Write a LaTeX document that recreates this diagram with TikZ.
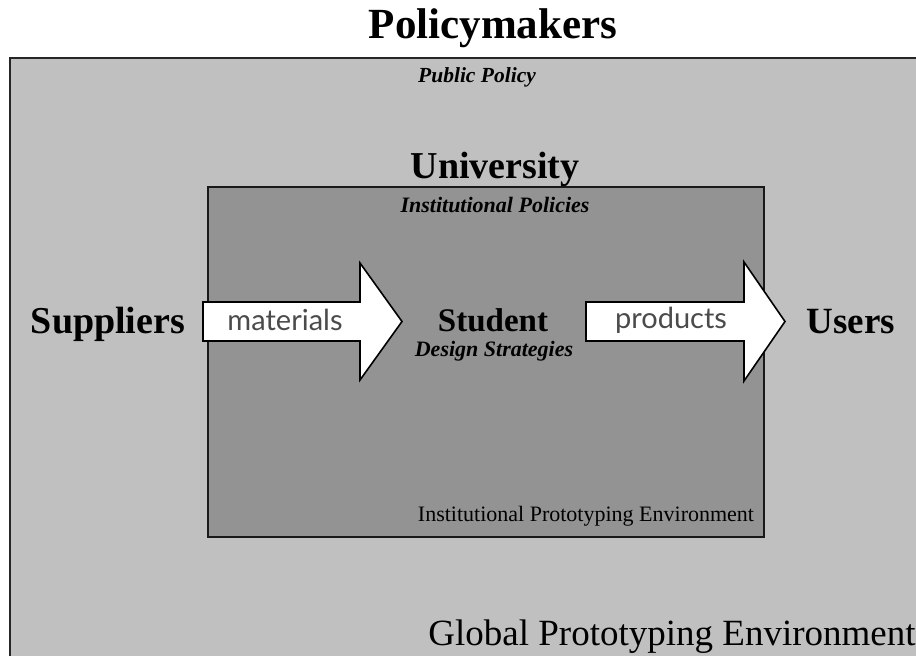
\documentclass[tikz,border=0pt]{standalone}
\usepackage{fontspec}
\setmainfont{Liberation Serif}
\newfontfamily\arrowfont{Lato}
\definecolor{globalgray}{RGB}{192,192,192}
\definecolor{instgray}{RGB}{147,147,147}
\definecolor{arrowtext}{RGB}{75,75,75}
\newcommand{\fs}[1]{\fontsize{#1}{#1}\selectfont}
\tikzset{
  lbl/.style={anchor=base,inner sep=0pt},
  arrowbox/.style={draw=black,line width=1.6pt,fill=white,line join=miter},
}

\begin{document}
\begin{tikzpicture}[x=1pt,y=-1pt]
            \useasboundingbox (0,0) rectangle (916,656);
            \clip (0,0) rectangle (916,656);
            \draw[line width=2pt,draw=black!85,fill=globalgray] (10,58) rectangle (930,670);
            \draw[line width=2pt,draw=black!90,fill=instgray] (208,187) rectangle (764,537);
            \draw[arrowbox] (203,302)--(360,302)--(360,263)--(402,321.5)--(360,380)--(360,341)--(203,341)--cycle;
            \draw[arrowbox] (586,302)--(744,302)--(744,262)--(785,321.5)--(744,381)--(744,341)--(586,341)--cycle;
            \node[lbl] (policy) at (493,38) {\fs{43}\bfseries Policymakers};
            \node[lbl] (public) at (477,82) {\fs{21.5}\bfseries\itshape Public Policy};
            \node[lbl] (univ) at (495,178) {\fs{38}\bfseries University};
            \node[lbl] (instpol) at (495,212) {\fs{22}\bfseries\itshape Institutional Policies};
            \node[lbl] (supp) at (108,333) {\fs{38}\bfseries Suppliers};
            \node[lbl] (stud) at (493,331) {\fs{33}\bfseries Student};
            \node[lbl] (design) at (494,356) {\fs{22}\bfseries\itshape Design Strategies};
            \node[lbl] (users) at (851,333) {\fs{37}\bfseries Users};
            \node[lbl,text=arrowtext] (mat) at (285,330) {\arrowfont\fs{29}materials};
            \node[lbl,text=arrowtext] (prod) at (671,328) {\arrowfont\fs{29}products};
            \node[lbl] (ipe) at (586,521) {\fs{22}Institutional Prototyping Environment};
            \node[lbl] (gpe) at (672,645) {\fs{37}Global Prototyping Environment};
        \end{tikzpicture}
\end{document}
